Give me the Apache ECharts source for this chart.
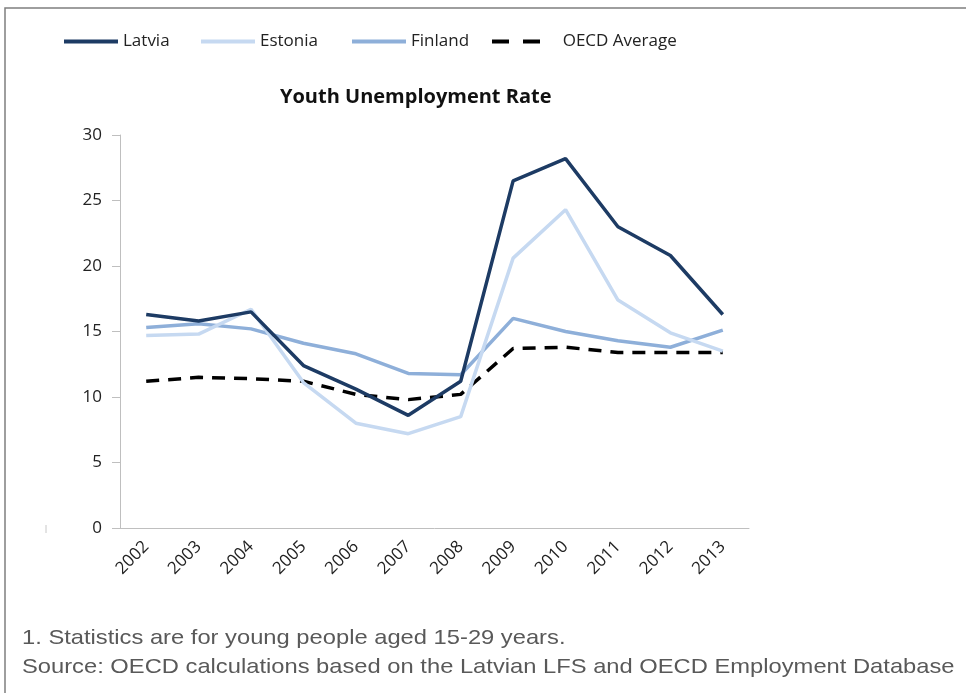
<!DOCTYPE html>
<html>
<head>
<meta charset="utf-8">
<title>Youth Unemployment Rate</title>
<script src="https://cdn.jsdelivr.net/npm/echarts@6/dist/echarts.min.js"></script>
<style>
  html, body { margin: 0; padding: 0; background: #fff; }
  #chart { width: 966px; height: 693px; }
</style>
</head>
<body>
<div id="chart"></div>
<script>
// data
var years = ['2002', '2003', '2004', '2005', '2006', '2007', '2008', '2009', '2010', '2011', '2012', '2013']
var latvia = [16.3, 15.8, 16.5, 12.4, 10.6, 8.6, 11.2, 26.5, 28.2, 23.0, 20.8, 16.3]
var estonia = [14.7, 14.8, 16.7, 11.1, 8.0, 7.2, 8.5, 20.6, 24.3, 17.4, 14.9, 13.5]
var finland = [15.3, 15.6, 15.2, 14.1, 13.3, 11.8, 11.7, 16.0, 15.0, 14.3, 13.8, 15.1]
var oecd = [11.2, 11.5, 11.4, 11.2, 10.2, 9.8, 10.2, 13.7, 13.8, 13.4, 13.4, 13.4]
var yTicks = { min: 0, max: 30, interval: 5 }
var footnotes = [
  '1. Statistics are for young people aged 15-29 years.',
  'Source: OECD calculations based on the Latvian LFS and OECD Employment Database'
]

var font = '"Open Sans", sans-serif'
var noteFont = '"Liberation Sans", Arial, sans-serif'
var axisGray = '#bfbfbf'

function legendItem(name, left, extra) {
  var l = {
    data: [name],
    left: left,
    top: 33,
    itemWidth: 54,
    itemHeight: 14,
    padding: 0,
    selectedMode: false,
    itemStyle: { opacity: 0 },
    lineStyle: { width: 4 },
    textStyle: { fontFamily: font, fontSize: 17, color: '#222' }
  }
  return Object.assign(l, extra || {})
}

var chart = echarts.init(document.getElementById('chart'))
chart.setOption({
  animation: false,
  title: {
    text: 'Youth Unemployment Rate',
    left: 280,
    top: 87,
    padding: 0,
    textStyle: { fontFamily: font, fontSize: 20, fontWeight: 'bold', color: '#111' }
  },
  legend: [
    legendItem('Latvia', 62),
    legendItem('Estonia', 199),
    legendItem('Finland', 350),
    legendItem('OECD Average', 490, {
      itemWidth: 48,
      lineStyle: { type: [17, 14], width: 4 },
      formatter: '    {name}'
    })
  ],
  grid: { left: 120, right: 217, top: 135, bottom: 165 },
  xAxis: {
    type: 'category',
    data: years,
    axisLine: { lineStyle: { color: axisGray } },
    axisTick: { length: 7, lineStyle: { color: axisGray } },
    axisLabel: { rotate: 45, margin: 16, fontFamily: font, fontSize: 17, color: '#222' }
  },
  yAxis: {
    type: 'value',
    min: yTicks.min,
    max: yTicks.max,
    interval: yTicks.interval,
    splitLine: { show: false },
    axisLine: { show: true, lineStyle: { color: axisGray } },
    axisTick: { show: true, length: 8, lineStyle: { color: axisGray } },
    axisLabel: { margin: 18, fontFamily: font, fontSize: 17, color: '#222' }
  },
  series: [
    {
      name: 'OECD Average',
      type: 'line',
      data: oecd,
      symbol: 'none',
      lineStyle: { color: '#000', width: 3.5, type: [13, 9] },
      itemStyle: { color: '#000' }
    },
    {
      name: 'Finland',
      type: 'line',
      data: finland,
      symbol: 'none',
      lineStyle: { color: '#8eafd9', width: 3.5 },
      itemStyle: { color: '#8eafd9' }
    },
    {
      name: 'Estonia',
      type: 'line',
      data: estonia,
      symbol: 'none',
      lineStyle: { color: '#c6d9f1', width: 3.5 },
      itemStyle: { color: '#c6d9f1' }
    },
    {
      name: 'Latvia',
      type: 'line',
      data: latvia,
      symbol: 'none',
      lineStyle: { color: '#1d3b64', width: 3.5 },
      itemStyle: { color: '#1d3b64' }
    }
  ],
  graphic: [
    {
      type: 'rect',
      shape: { x: 5, y: 8, width: 1000, height: 1000 },
      style: { fill: 'none', stroke: '#7f7f7f', lineWidth: 1.5 },
      silent: true
    },
    {
      type: 'line',
      shape: { x1: 46, y1: 525, x2: 46, y2: 533 },
      style: { stroke: '#c8c8c8', lineWidth: 1 },
      silent: true
    },
    {
      type: 'text',
      x: 22,
      y: 628,
      scaleX: 1.13,
      style: { text: footnotes[0], fontFamily: noteFont, fontSize: 21, fill: '#595959', verticalAlign: 'top' },
      silent: true
    },
    {
      type: 'text',
      x: 22,
      y: 657,
      scaleX: 1.13,
      style: { text: footnotes[1], fontFamily: noteFont, fontSize: 21, fill: '#595959', verticalAlign: 'top' },
      silent: true
    }
  ]
})
</script>
</body>
</html>
